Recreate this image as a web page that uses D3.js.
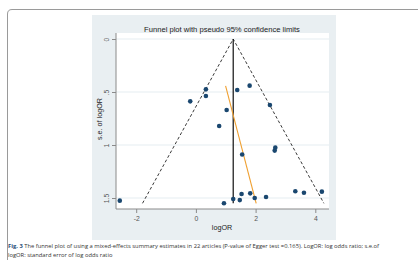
<!DOCTYPE html>
<html><head><meta charset="utf-8">
<script src="https://cdn.jsdelivr.net/npm/d3@7"></script>
<style>html,body{margin:0;padding:0;background:#fff;}svg{display:block;font-family:"Liberation Sans",Arial,sans-serif;}</style>
</head><body>
<script>
const logOR = [0.335,0.335,-0.19,1.03,1.385,1.80,2.48,0.78,1.55,2.66,2.64,3.33,3.62,4.22,2.35,1.97,1.82,1.53,1.47,1.25,0.94,-2.55];
const seLogOR = [0.475,0.538,0.588,0.67,0.481,0.44,0.623,0.821,1.09,1.025,1.053,1.437,1.45,1.44,1.49,1.50,1.456,1.462,1.52,1.51,1.55,1.525];
const pooled = 1.25;
const seMax = 1.55;
const eggerLine = [[0.995,0.443],[2.02,1.55]];
const xTicks = [-2,0,2,4];
const xTickLabels = ["-2","0","2","4"];
const yTicks = [0,0.5,1,1.5];
const yTickLabels = ["0",".5","1","1.5"];
const titleText = "Funnel plot with pseudo 95% confidence limits";
const captionBold = "Fig. 3";
const captionLine1 = " The funnel plot of using a mixed-effects summary estimates in 22 articles (P-value of Egger test =0.165). LogOR: log odds ratio; s.e.of";
const captionLine2 = "logOR: standard error of log odds ratio";

const W=418,H=260;
const svg=d3.select("body").append("svg").attr("width",W).attr("height",H);

// page frame
svg.append("path").attr("d","M7.5,260 L7.5,14 Q7.5,9.5 12,9.5 L418,9.5").attr("fill","none").attr("stroke","#9a9a9a").attr("stroke-width",1);

// graph region
svg.append("rect").attr("x",92).attr("y",15).attr("width",244).attr("height",225).attr("fill","#e9eff2");

const pl=116, pr=329, pt=33, pb=209;
svg.append("rect").attr("x",pl).attr("y",pt).attr("width",pr-pl).attr("height",pb-pt).attr("fill","#fff");

const x=d3.scaleLinear().domain([-2,4]).range([136.2,315.3]);
const y=d3.scaleLinear().domain([0,1.5]).range([39,198]);

// gridlines
svg.append("g").selectAll("line").data(yTicks).join("line")
  .attr("x1",pl).attr("x2",pr).attr("y1",d=>y(d)).attr("y2",d=>y(d))
  .attr("stroke","#e6eef1").attr("stroke-width",1.2);

// y axis
const yAx=svg.append("g").attr("transform",`translate(${pl},0)`)
  .call(d3.axisLeft(y).tickValues(yTicks).tickFormat((d,i)=>yTickLabels[i]).tickSize(4).tickPadding(2));
yAx.select(".domain").attr("d",`M0,${pt}V${pb}`).attr("stroke","#8a8a8a");
yAx.selectAll(".tick line").attr("stroke","#8a8a8a");
yAx.selectAll(".tick text")
  .attr("x",0).attr("y",0).attr("dy",null)
  .attr("text-anchor","middle").attr("font-size",6.8).attr("fill","#555")
  .attr("transform","translate(-7,0) rotate(-90)");

// x axis
const xAx=svg.append("g").attr("transform",`translate(0,${pb})`)
  .call(d3.axisBottom(x).tickValues(xTicks).tickFormat((d,i)=>xTickLabels[i]).tickSize(4).tickPadding(3));
xAx.select(".domain").attr("d",`M${pl},0H${pr}`).attr("stroke","#8a8a8a");
xAx.selectAll(".tick line").attr("stroke","#8a8a8a");
xAx.selectAll(".tick text").attr("font-size",6.8).attr("fill","#555");
svg.selectAll(".tick text").attr("font-family","Liberation Sans, Arial, sans-serif");

// funnel
const funnel=[[pooled-1.96*seMax,seMax],[pooled,0],[pooled+1.96*seMax,seMax]];
svg.append("path").attr("d",d3.line().x(d=>x(d[0])).y(d=>y(d[1]))(funnel))
  .attr("fill","none").attr("stroke","#222").attr("stroke-width",0.9).attr("stroke-dasharray","3,2.2");

// pooled line
svg.append("line").attr("x1",x(pooled)).attr("x2",x(pooled)).attr("y1",y(0)).attr("y2",y(seMax))
  .attr("stroke","#111").attr("stroke-width",1.2);

// egger line
svg.append("path").attr("d",d3.line().x(d=>x(d[0])).y(d=>y(d[1]))(eggerLine))
  .attr("fill","none").attr("stroke","#f0a030").attr("stroke-width",1.1);

// points
svg.append("g").selectAll("circle").data(logOR.map((v,i)=>[v,seLogOR[i]])).join("circle")
  .attr("cx",d=>x(d[0])).attr("cy",d=>y(d[1])).attr("r",2.3).attr("fill","#1a476f");

// texts
svg.append("text").attr("x",222).attr("y",31.5).attr("text-anchor","middle").attr("font-size",7.6).attr("fill","#222").text(titleText);
svg.append("text").attr("x",222).attr("y",229.5).attr("text-anchor","middle").attr("font-size",7.2).attr("fill","#222").text("logOR");
svg.append("text").attr("transform","translate(102,119) rotate(-90)").attr("text-anchor","middle").attr("font-size",7.2).attr("fill","#222").text("s.e. of logOR");

const cap=svg.append("text").attr("x",8).attr("y",248).attr("font-size",5.8).attr("fill","#333").attr("font-family","Open Sans, sans-serif");
cap.append("tspan").attr("font-weight","bold").attr("fill","#1f4e79").text(captionBold);
cap.append("tspan").text(captionLine1);
svg.append("text").attr("x",8).attr("y",256.5).attr("font-size",5.8).attr("fill","#333").attr("font-family","Open Sans, sans-serif").text(captionLine2);
</script>
</body></html>
